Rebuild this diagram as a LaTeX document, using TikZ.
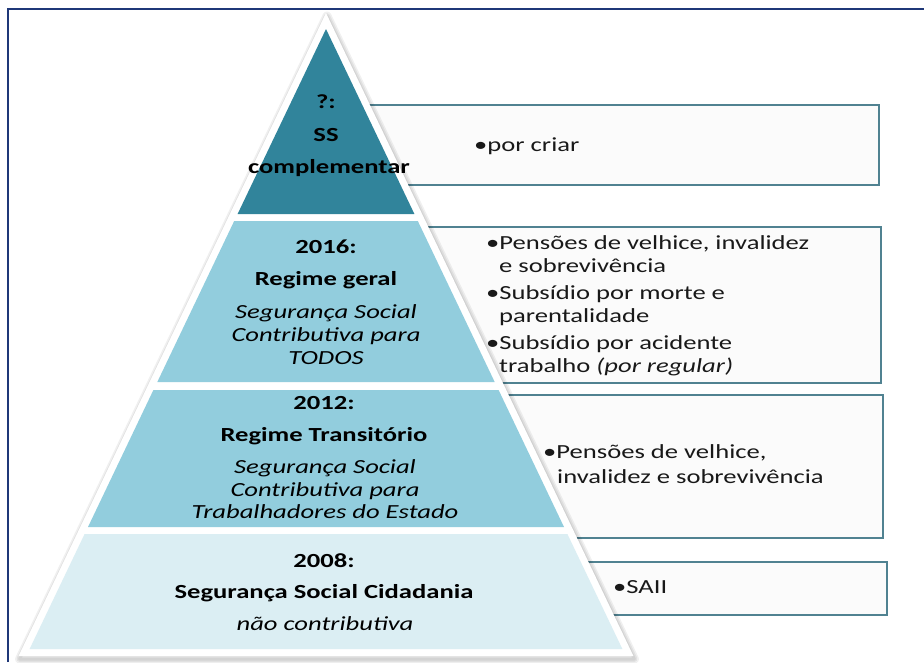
\documentclass[tikz,border=0pt]{standalone}
\usepackage{fontspec}
\setmainfont[FakeStretch=1.33]{Carlito}
\definecolor{frameblue}{RGB}{31,56,120}
\definecolor{tiertop}{RGB}{49,132,155}
\definecolor{tiermid}{RGB}{146,205,221}
\definecolor{tierlow}{RGB}{219,238,243}
\definecolor{boxline}{RGB}{80,130,145}
\definecolor{boxfill}{RGB}{251,251,251}

\begin{document}
\begin{tikzpicture}[x=1pt,y=-1pt,
  font=\fontsize{20}{23}\selectfont,
  infobox/.style={draw=boxline, line width=1.5pt, fill=boxfill},
  glow/.style={draw=black, line width=#1, line join=round, draw opacity=0.06},
  tiertext/.style={anchor=base, inner sep=0pt, text=black},
  item/.style={anchor=base west, inner sep=0pt, text=black!90}]

\useasboundingbox (0,0) rectangle (924,662);
\fill[white] (0,0) rectangle (924,662);

% page frame (top and left rules)
\draw[frameblue, line width=2pt] (8,662) -- (8,9) -- (924,9);

% description boxes (their left parts sit behind the pyramid)
\draw[infobox] (300,105) rectangle (879,185);
\draw[infobox] (300,227) rectangle (881,383);
\draw[infobox] (300,395) rectangle (883,538);
\draw[infobox] (300,562) rectangle (887,615);

% soft shadow under the pyramid plate
\begin{scope}[shift={(1,3)}]
  \foreach \w in {9,6,3}
    \draw[glow=\w pt] (326,13) -- (633.4,656) -- (18.6,656) -- cycle;
\end{scope}

% white pyramid plate
\fill[white] (326,13) -- (633.4,656) -- (18.6,656) -- cycle;

% pyramid tiers
\fill[tiertop] (326,29) -- (414.4,214) -- (237.6,214) -- cycle;
\fill[tiermid] (234.2,221) -- (417.8,221) -- (494.7,382) -- (157.3,382) -- cycle;
\fill[tiermid] (153.4,390) -- (498.6,390) -- (564.0,527) -- (88.0,527) -- cycle;
\fill[tierlow] (84.6,534) -- (567.4,534) -- (622.4,649) -- (29.6,649) -- cycle;

% tier labels
\node[tiertext, font=\fontsize{20}{23}\selectfont\bfseries] (t1a) at (326,108) {?:};
\node[tiertext, font=\fontsize{20}{23}\selectfont\bfseries] (t1b) at (326,141) {SS};
\node[tiertext, font=\fontsize{20}{23}\selectfont\bfseries] (t1c) at (329,173) {complementar};

\node[tiertext, font=\fontsize{20}{23}\selectfont\bfseries] (t2a) at (326,253) {2016:};
\node[tiertext, font=\fontsize{20}{23}\selectfont\bfseries] (t2b) at (326,285) {Regime geral};
\node[tiertext, font=\fontsize{20}{23}\selectfont\itshape] (t2c) at (326,318) {Segurança Social};
\node[tiertext, font=\fontsize{20}{23}\selectfont\itshape] (t2d) at (326,341) {Contributiva para};
\node[tiertext, font=\fontsize{20}{23}\selectfont\itshape] (t2e) at (326,364) {TODOS};

\node[tiertext, font=\fontsize{20}{23}\selectfont\bfseries] (t3a) at (324,409) {2012:};
\node[tiertext, font=\fontsize{20}{23}\selectfont\bfseries] (t3b) at (324,441) {Regime Transitório};
\node[tiertext, font=\fontsize{20}{23}\selectfont\itshape] (t3c) at (325,473) {Segurança Social};
\node[tiertext, font=\fontsize{20}{23}\selectfont\itshape] (t3d) at (325,496) {Contributiva para};
\node[tiertext, font=\fontsize{20}{23}\selectfont\itshape] (t3e) at (325,518) {Trabalhadores do Estado};

\node[tiertext, font=\fontsize{20}{23}\selectfont\bfseries] (t4a) at (324,567) {2008:};
\node[tiertext, font=\fontsize{20}{23}\selectfont\bfseries] (t4b) at (324,598) {Segurança Social Cidadania};
\node[tiertext, font=\fontsize{20}{23}\selectfont\itshape] (t4c) at (325,630) {não contributiva};

% box items
\node[item] (b1a) at (474,151) {•por criar};

\node[item] (b2a) at (486,249) {•Pensões de velhice, invalidez};
\node[item] (b2b) at (499,272) {e sobrevivência};
\node[item] (b2c) at (486,299) {•Subsídio por morte e};
\node[item] (b2d) at (499,322) {parentalidade};
\node[item] (b2e) at (486,349) {•Subsídio por acidente};
\node[item] (b2f) at (499,372) {trabalho \textit{(por regular)}};

\node[item] (b3a) at (543,458) {•Pensões de velhice,};
\node[item] (b3b) at (557,483) {invalidez e sobrevivência};

\node[item] (b4a) at (613,593) {•SAII};
\end{tikzpicture}
\end{document}
